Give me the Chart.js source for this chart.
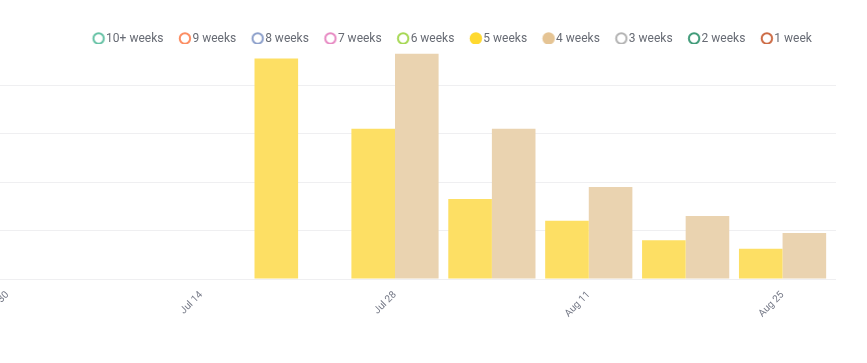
<!DOCTYPE html>
<html>
<head>
<meta charset="utf-8">
<script src="https://cdn.jsdelivr.net/npm/chart.js@4/dist/chart.umd.min.js"></script>
<style>
  html, body { margin: 0; padding: 0; background: #fff; overflow: hidden; }
  body { width: 867px; height: 363px; position: relative; }
  #wrap { position: absolute; left: -46px; top: 0; width: 996px; height: 363px; }
</style>
</head>
<body>
<div id="wrap"><canvas id="myChart"></canvas></div>
<script>
// weeks on the x axis
const weeks = ['Jun 30', 'Jul 7', 'Jul 14', 'Jul 21', 'Jul 28', 'Aug 4', 'Aug 11', 'Aug 18', 'Aug 25'];

// legend / series names
const seriesNames = ['10+ weeks', '9 weeks', '8 weeks', '7 weeks', '6 weeks', '5 weeks', '4 weeks', '3 weeks', '2 weeks', '1 week'];
const legendColors = ['#66c2a5', '#fc8d62', '#8da0cb', '#e78ac3', '#a6d854', '#ffd92f', '#e5c494', '#b3b3b3', '#3f9a78', '#cc6a44'];

// only two series have values
const fiveWeeks = [0, 0, 0, 91, 62, 33, 24, 16, 12.5];
const fourWeeks = [0, 0, 0, 0, 93, 62, 38, 26, 19];
const barColors = { '5 weeks': '#fddf64', '4 weeks': '#ead3b0' };
const seriesData = { '5 weeks': fiveWeeks, '4 weeks': fourWeeks };

const yMax = 97;

Chart.defaults.font.family = 'Roboto';

const circleIcon = (color, filled) => {
  const c = document.createElement('canvas');
  c.width = 18;
  c.height = 18;
  const ctx = c.getContext('2d');
  ctx.beginPath();
  if (filled) {
    ctx.arc(9, 8.5, 6.2, 0, Math.PI * 2);
    ctx.fillStyle = color;
    ctx.fill();
  } else {
    ctx.arc(9, 8.5, 5.2, 0, Math.PI * 2);
    ctx.strokeStyle = color;
    ctx.lineWidth = 2;
    ctx.stroke();
  }
  return c;
};

const datasets = seriesNames.map((name) => ({
  label: name,
  data: seriesData[name] || weeks.map(() => null),
  backgroundColor: barColors[name] || legendColors[seriesNames.indexOf(name)],
  borderWidth: 0,
  categoryPercentage: 0.9,
  barPercentage: 1.0,
  skipNull: true,
}));

const legendHeight = {
  id: 'legendHeight',
  beforeInit(chart) {
    const fit = chart.legend.fit;
    chart.legend.fit = function () {
      fit.bind(chart.legend)();
      this.height = 31;
    };
  },
};

const myChart = new Chart(document.getElementById('myChart'), {
  type: 'bar',
  data: { labels: weeks, datasets },
  options: {
    responsive: true,
    maintainAspectRatio: false,
    animation: false,
    layout: { padding: { top: 13, left: 5, right: 0, bottom: 0 } },
    plugins: {
      tooltip: { enabled: false },
      legend: {
        position: 'top',
        labels: {
          usePointStyle: true,
          boxWidth: 3,
          boxHeight: 12,
          padding: 20,
          color: '#676b74',
          font: { size: 12 },
          generateLabels: () => seriesNames.map((name, i) => ({
            text: name,
            fillStyle: legendColors[i],
            strokeStyle: legendColors[i],
            lineWidth: 0,
            fontColor: '#676b74',
            hidden: false,
            pointStyle: circleIcon(legendColors[i], !!seriesData[name]),
            datasetIndex: i,
          })),
        },
      },
    },
    scales: {
      x: {
        grid: { display: false },
        border: { display: false },
        ticks: {
          autoSkip: false,
          minRotation: 45,
          maxRotation: 45,
          padding: 2,
          color: '#737785',
          font: { size: 10 },
          callback: (v, i) => (i % 2 === 0 ? weeks[i] : ''),
        },
        afterFit: (scale) => { scale.height = 84; },
      },
      y: {
        position: 'right',
        min: 0,
        max: yMax,
        border: { display: false },
        grid: {
          color: (ctx) => (ctx.tick && ctx.tick.value >= yMax ? 'rgba(0,0,0,0)' : '#efeff1'),
          drawTicks: true,
          tickLength: 5,
        },
        ticks: { stepSize: 20, display: false },
        afterFit: (scale) => { scale.width = 119; },
      },
    },
  },
  plugins: [legendHeight],
});
</script>
</body>
</html>
